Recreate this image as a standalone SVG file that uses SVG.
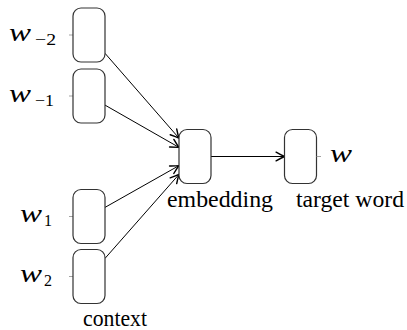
<svg xmlns="http://www.w3.org/2000/svg" width="407" height="330" viewBox="0 0 407 330">
  <style>
    .box { fill: #ffffff; stroke: #333333; stroke-width: 1.2; }
    .tick { stroke: #999999; stroke-width: 0.9; }
    .edge { stroke: #000000; stroke-width: 1; fill: none; marker-end: url(#to); }
    .mw { font-family: "Liberation Serif", "DejaVu Serif", "Times New Roman", serif; font-style: italic; font-size: 26px; fill: #000; }
    .sub { font-family: "Liberation Serif", "DejaVu Serif", "Times New Roman", serif; font-size: 16px; fill: #000; }
    .lbl { font-family: "Liberation Serif", "DejaVu Serif", "Times New Roman", serif; font-size: 23px; fill: #000; }
  </style>
  <defs>
    <marker id="to" markerUnits="userSpaceOnUse" markerWidth="12" markerHeight="12" viewBox="-8 -5 10 10" refX="0" refY="0" orient="auto">
      <path d="M-7,-3.6 Q-2.5,-1 0,0 Q-2.5,1 -7,3.6" fill="none" stroke="#000" stroke-width="1.2" stroke-linecap="round"/>
    </marker>
  </defs>

  <!-- connectors -->
  <g id="connectors">
    <line class="edge" x1="105" y1="53.3" x2="179" y2="138.2"/>
    <line class="edge" x1="105" y1="105.1" x2="179" y2="147.4"/>
    <line class="edge" x1="105" y1="207.4" x2="179" y2="165.6"/>
    <line class="edge" x1="105" y1="258.4" x2="179" y2="174.4"/>
    <line class="edge" x1="211" y1="156.5" x2="284.5" y2="156.5"/>
  </g>

  <!-- context words -->
  <g id="w-minus2">
    <line class="tick" x1="69" y1="35" x2="73" y2="35"/>
    <rect class="box" x="73" y="8" width="32" height="54" rx="8"/>
    <text class="mw" x="9" y="40.5" textLength="22" lengthAdjust="spacingAndGlyphs">w</text>
    <text class="sub" x="35" y="44.5" textLength="21" lengthAdjust="spacingAndGlyphs">−2</text>
  </g>
  <g id="w-minus1">
    <line class="tick" x1="69" y1="96" x2="73" y2="96"/>
    <rect class="box" x="73" y="69" width="32" height="54" rx="8"/>
    <text class="mw" x="9" y="101.5" textLength="22" lengthAdjust="spacingAndGlyphs">w</text>
    <text class="sub" x="35" y="105.5" textLength="19" lengthAdjust="spacingAndGlyphs">−1</text>
  </g>
  <g id="w-plus1">
    <line class="tick" x1="69" y1="216.5" x2="73" y2="216.5"/>
    <rect class="box" x="73" y="189.5" width="32" height="54" rx="8"/>
    <text class="mw" x="20" y="222" textLength="22" lengthAdjust="spacingAndGlyphs">w</text>
    <text class="sub" x="44" y="225.5">1</text>
  </g>
  <g id="w-plus2">
    <line class="tick" x1="69" y1="276.5" x2="73" y2="276.5"/>
    <rect class="box" x="73" y="249.5" width="32" height="54" rx="8"/>
    <text class="mw" x="20" y="282" textLength="22" lengthAdjust="spacingAndGlyphs">w</text>
    <text class="sub" x="44" y="285.5">2</text>
  </g>
  <text id="context-label" class="lbl" x="83" y="326" textLength="64" lengthAdjust="spacingAndGlyphs">context</text>

  <!-- embedding -->
  <g id="embedding">
    <rect class="box" x="179" y="129.5" width="32" height="54" rx="8"/>
    <text class="lbl" x="167" y="207" textLength="106" lengthAdjust="spacingAndGlyphs">embedding</text>
  </g>

  <!-- target word -->
  <g id="target">
    <rect class="box" x="284.5" y="129.5" width="32" height="54" rx="8"/>
    <line class="tick" x1="316.5" y1="156.5" x2="321" y2="156.5"/>
    <text class="mw" x="330" y="162" textLength="22" lengthAdjust="spacingAndGlyphs">w</text>
    <text class="lbl" x="296" y="207" textLength="108" lengthAdjust="spacingAndGlyphs">target word</text>
  </g>
</svg>
